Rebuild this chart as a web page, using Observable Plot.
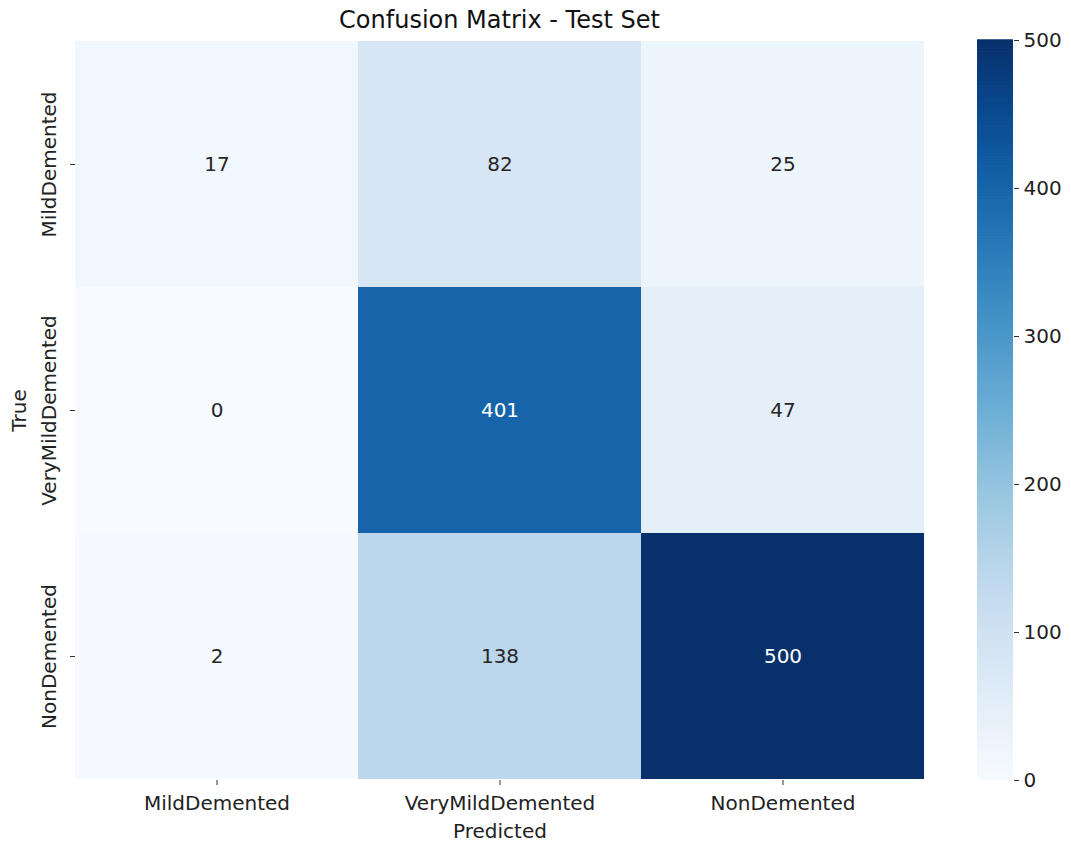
<!DOCTYPE html>
<html>
<head>
<meta charset="utf-8">
<script src="https://cdn.jsdelivr.net/npm/d3@7"></script>
<script src="https://cdn.jsdelivr.net/npm/@observablehq/plot@0.6"></script>
<style>
  html, body { margin: 0; padding: 0; background: #fff; }
  #wrap { position: relative; width: 1071px; height: 842px; font-family: "DejaVu Sans", sans-serif; }
  #title { position: absolute; left: 75px; width: 849px; top: 5px; text-align: center; font-size: 24px; color: #111; line-height: 30px; }
  #main { position: absolute; left: 0; top: 0; }
  #cbar { position: absolute; left: 940px; top: 0; }
</style>
</head>
<body>
<div id="wrap">
  <div id="main"></div>
  <div id="cbar"></div>
  <div id="title">Confusion Matrix - Test Set</div>
</div>
<script>
// Data
const predictedLabels = ["MildDemented", "VeryMildDemented", "NonDemented"];
const trueLabels = ["MildDemented", "VeryMildDemented", "NonDemented"];
const rowMildDemented = [17, 82, 25];
const rowVeryMildDemented = [0, 401, 47];
const rowNonDemented = [2, 138, 500];
const colorbarTicks = [0, 100, 200, 300, 400, 500];
const colorDomain = [0, 500];

const rows = [rowMildDemented, rowVeryMildDemented, rowNonDemented];
const cells = [];
trueLabels.forEach((t, i) => predictedLabels.forEach((p, j) => cells.push({ t, p, v: rows[i][j] })));

const FONT = "DejaVu Sans";
const FS = 20;

const main = Plot.plot({
  width: 940,
  height: 842,
  marginLeft: 75,
  marginRight: 16,
  marginTop: 40,
  marginBottom: 62,
  style: { fontFamily: FONT, fontSize: FS + "px", color: "#222", background: "transparent" },
  x: { domain: predictedLabels, padding: 0 },
  y: { domain: trueLabels, padding: 0 },
  color: { type: "linear", scheme: "blues", domain: colorDomain },
  marks: [
    Plot.cell(cells, { x: "p", y: "t", fill: "v", inset: 0, shapeRendering: "crispEdges" }),
    Plot.text(cells, {
      x: "p", y: "t", text: d => String(d.v), fontSize: FS,
      fill: d => d.v > 250 ? "#ffffff" : "#262626"
    }),
    Plot.axisX({ tickSize: 5, tickFormat: () => "", label: null, stroke: "#333" }),
    Plot.axisY({ tickSize: 5, tickFormat: () => "", label: null, stroke: "#333" }),
    Plot.text(predictedLabels, { x: d => d, frameAnchor: "bottom", dy: 23, lineAnchor: "middle", fontSize: FS, fill: "#222" }),
    Plot.text(trueLabels, { y: d => d, frameAnchor: "left", dx: -26, rotate: -90, lineAnchor: "middle", textAnchor: "middle", fontSize: FS, fill: "#222" }),
    Plot.text(["Predicted"], { frameAnchor: "bottom", dy: 51, lineAnchor: "middle", fontSize: FS, fill: "#222" }),
    Plot.text(["True"], { frameAnchor: "left", dx: -56, rotate: -90, lineAnchor: "middle", textAnchor: "middle", fontSize: FS, fill: "#222" })
  ]
});
document.getElementById("main").appendChild(main);

const steps = d3.range(colorDomain[0], colorDomain[1], 1);
const cbar = Plot.plot({
  width: 131,
  height: 842,
  marginLeft: 37,
  marginRight: 58,
  marginTop: 40,
  marginBottom: 62,
  style: { fontFamily: FONT, fontSize: FS + "px", color: "#222", background: "transparent" },
  y: { domain: colorDomain },
  color: { type: "linear", scheme: "blues", domain: colorDomain },
  marks: [
    Plot.rect(steps, { y1: d => d, y2: d => d + 1.5, fill: d => d + 0.5 }),
    Plot.axisY({ anchor: "right", ticks: colorbarTicks, tickSize: 5, tickPadding: 5, label: null, fontSize: FS, stroke: "#333" })
  ]
});
document.getElementById("cbar").appendChild(cbar);
</script>
</body>
</html>
